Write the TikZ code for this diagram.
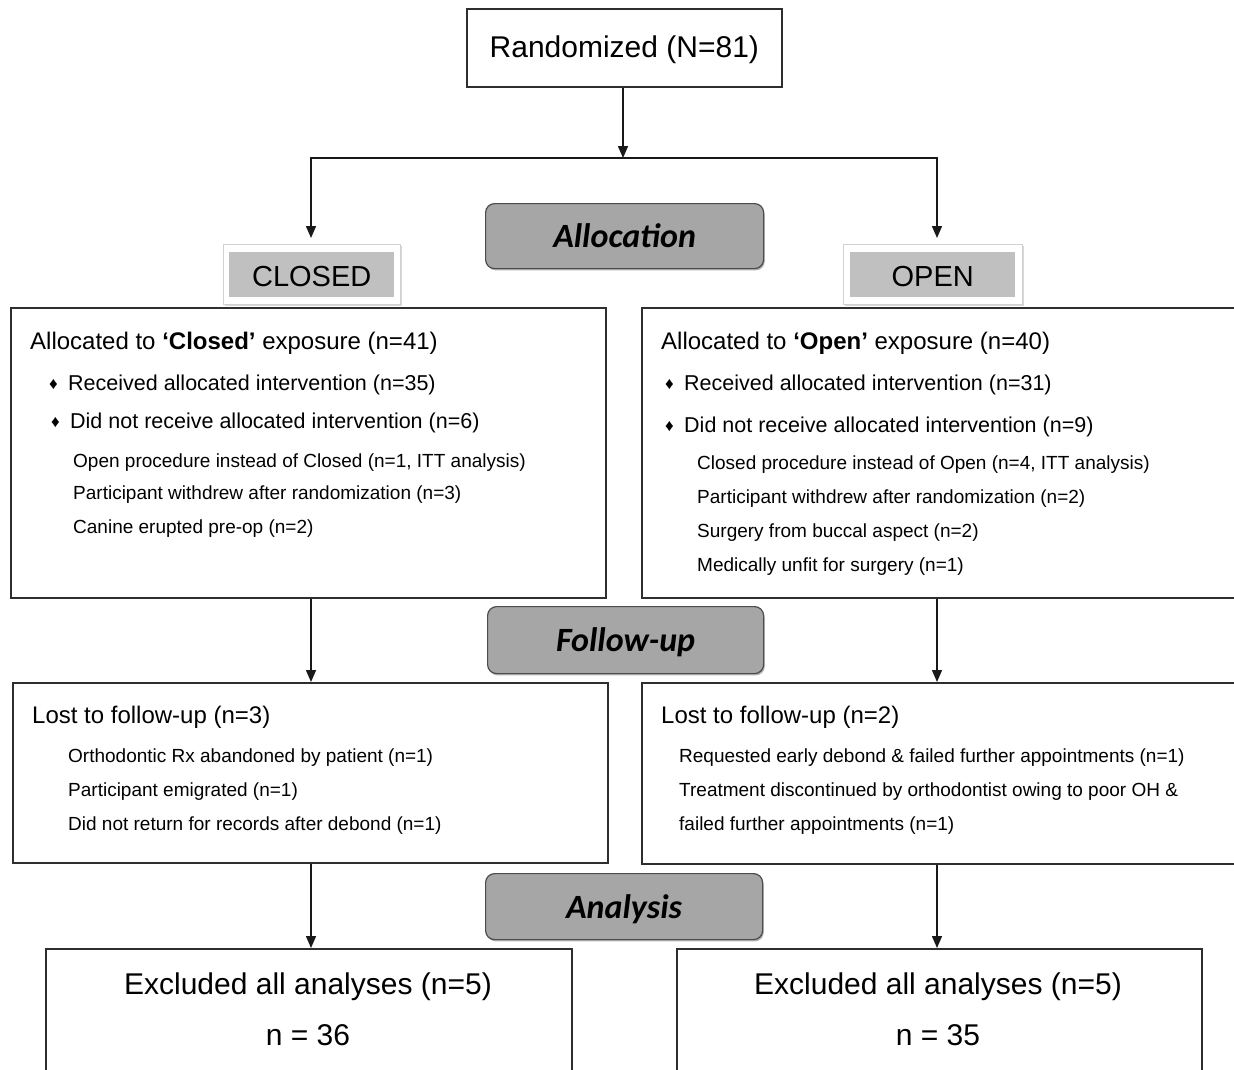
\documentclass[tikz,border=0pt]{standalone}
\usepackage{fontspec}
\setmainfont{Liberation Sans}
\newfontfamily\calib{Carlito}
\usetikzlibrary{arrows.meta,shadows}
\definecolor{boxgray}{HTML}{A6A6A6}
\definecolor{lblgray}{HTML}{C0C0C0}
\definecolor{edge}{HTML}{2E2E2E}
\newcommand\fs[1]{\fontsize{#1}{#1}\selectfont}
\newcommand\dia[1]{\makebox[#1][l]{\raisebox{0.5pt}{\fs{17}♦}}}
\tikzset{
  mainbox/.style={draw=edge, line width=1.7pt, fill=white, inner sep=0pt, anchor=north west},
  stagebox/.style={draw=black!70, line width=1.2pt, fill=boxgray, rounded corners=9pt,
    inner sep=0pt, anchor=north west, font=\calib\bfseries\itshape\fs{34},
    text height=23pt, text depth=0pt,
    drop shadow={shadow xshift=1.2pt, shadow yshift=-1.8pt, fill=black!50, opacity=0.6}},
  lblouter/.style={draw=black!18, line width=1.2pt, fill=white, inner sep=0pt, anchor=north west,
    drop shadow={shadow xshift=1.2pt, shadow yshift=-1.2pt, fill=black!25, opacity=0.6}},
  lblinner/.style={fill=lblgray, inner sep=0pt, anchor=north west, font=\fs{29},
    text height=23pt, text depth=0pt},
  txt/.style={anchor=base west, inner sep=0pt},
  ctxt/.style={anchor=base, inner sep=0pt},
  conn/.style={draw=black!90, line width=1.5pt},
  arr/.style={conn, -{Triangle[length=12pt,width=10pt]}},
}
\begin{document}
\begin{tikzpicture}[x=1pt,y=-1pt]
\clip (0,0) rectangle (1234,1069);
\fill[white] (0,0) rectangle (1234,1069);

% top
\node[mainbox, minimum width=315pt, minimum height=78pt, font=\fs{30}, text height=20pt, text depth=0pt] (rand) at (466,8) {Randomized (N=81)};
\coordinate (split) at (623,158);
\coordinate (colL) at (311,0);
\coordinate (colR) at (937,0);
\coordinate (openin) at (937,238);

% stage boxes
\node[stagebox, minimum width=278pt, minimum height=65pt] (alloc) at (485,203) {Allocation};
\node[stagebox, minimum width=276pt, minimum height=67pt] (follow) at (487,606) {Follow-up};
\node[stagebox, minimum width=277pt, minimum height=66pt] (analysis) at (485,873) {Analysis};

% group labels
\node[lblouter, minimum width=177pt, minimum height=60pt] (closedlbl) at (223,244) {};
\node[lblinner, minimum width=165pt, minimum height=45pt] (closedtxt) at (229,252) {CLOSED};
\node[lblouter, minimum width=179pt, minimum height=60pt] (openlbl) at (843,244) {};
\node[lblinner, minimum width=165pt, minimum height=45pt] (opentxt) at (850,252) {OPEN};

% allocation boxes
\node[mainbox, minimum width=595pt, minimum height=290pt] (lbox) at (10,307) {};
\node[mainbox, minimum width=600pt, minimum height=290pt] (rbox) at (641,307) {};

\node[txt, font=\fs{24}] (la0) at (30,349) {Allocated to \textbf{‘Closed’} exposure (n=41)};
\node[txt, font=\fs{21.5}] (la1) at (49,390) {\dia{19pt}Received allocated intervention (n=35)};
\node[txt, font=\fs{21.5}] (la2) at (51,428) {\dia{19pt}Did not receive allocated intervention (n=6)};
\node[txt, font=\fs{19}] (la3) at (73,467) {Open procedure instead of Closed (n=1, ITT analysis)};
\node[txt, font=\fs{19}] (la4) at (73,499) {Participant withdrew after randomization (n=3)};
\node[txt, font=\fs{19}] (la5) at (73,533) {Canine erupted pre-op (n=2)};

\node[txt, font=\fs{24}] (ra0) at (661,349) {Allocated to \textbf{‘Open’} exposure (n=40)};
\node[txt, font=\fs{21.5}] (ra1) at (665,390) {\dia{19pt}Received allocated intervention (n=31)};
\node[txt, font=\fs{21.5}] (ra2) at (665,432) {\dia{19pt}Did not receive allocated intervention (n=9)};
\node[txt, font=\fs{19}] (ra3) at (697,469) {Closed procedure instead of Open (n=4, ITT analysis)};
\node[txt, font=\fs{19}] (ra4) at (697,503) {Participant withdrew after randomization (n=2)};
\node[txt, font=\fs{19}] (ra5) at (697,537) {Surgery from buccal aspect (n=2)};
\node[txt, font=\fs{19}] (ra6) at (697,571) {Medically unfit for surgery (n=1)};

% follow-up boxes
\node[mainbox, minimum width=595pt, minimum height=180pt] (lfu) at (12,682) {};
\node[mainbox, minimum width=600pt, minimum height=181pt] (rfu) at (641,682) {};

\node[txt, font=\fs{24}] (lf0) at (32,723) {Lost to follow-up (n=3)};
\node[txt, font=\fs{19}] (lf1) at (68,762) {Orthodontic Rx abandoned by patient (n=1)};
\node[txt, font=\fs{19}] (lf2) at (68,796) {Participant emigrated (n=1)};
\node[txt, font=\fs{19}] (lf3) at (68,830) {Did not return for records after debond (n=1)};

\node[txt, font=\fs{24}] (rf0) at (661,723) {Lost to follow-up (n=2)};
\node[txt, font=\fs{19}] (rf1) at (679,762) {Requested early debond \& failed further appointments (n=1)};
\node[txt, font=\fs{19}] (rf2) at (679,796) {Treatment discontinued by orthodontist owing to poor OH \&};
\node[txt, font=\fs{19}] (rf3) at (679,830) {failed further appointments (n=1)};

% analysis boxes
\node[mainbox, minimum width=526pt, minimum height=140pt] (lan) at (45,948) {};
\node[mainbox, minimum width=525pt, minimum height=140pt] (ran) at (676,948) {};
\node[ctxt, font=\fs{30}] (lan1) at (308,994) {Excluded all analyses (n=5)};
\node[ctxt, font=\fs{30}] (lan2) at (308,1045) {n = 36};
\node[ctxt, font=\fs{30}] (ran1) at (938,994) {Excluded all analyses (n=5)};
\node[ctxt, font=\fs{30}] (ran2) at (938,1045) {n = 35};

% connectors
\draw[arr] (rand.south -| split) -- (split);
\draw[arr] (split) -| ([yshift=6pt]closedlbl.north -| colL);
\draw[arr] (split) -| (openin);
\draw[arr] (lbox.south -| colL) -- (lfu.north -| colL);
\draw[arr] (rbox.south -| colR) -- (rfu.north -| colR);
\draw[arr] (lfu.south -| colL) -- (lan.north -| colL);
\draw[arr] (rfu.south -| colR) -- (ran.north -| colR);
\end{tikzpicture}
\end{document}
